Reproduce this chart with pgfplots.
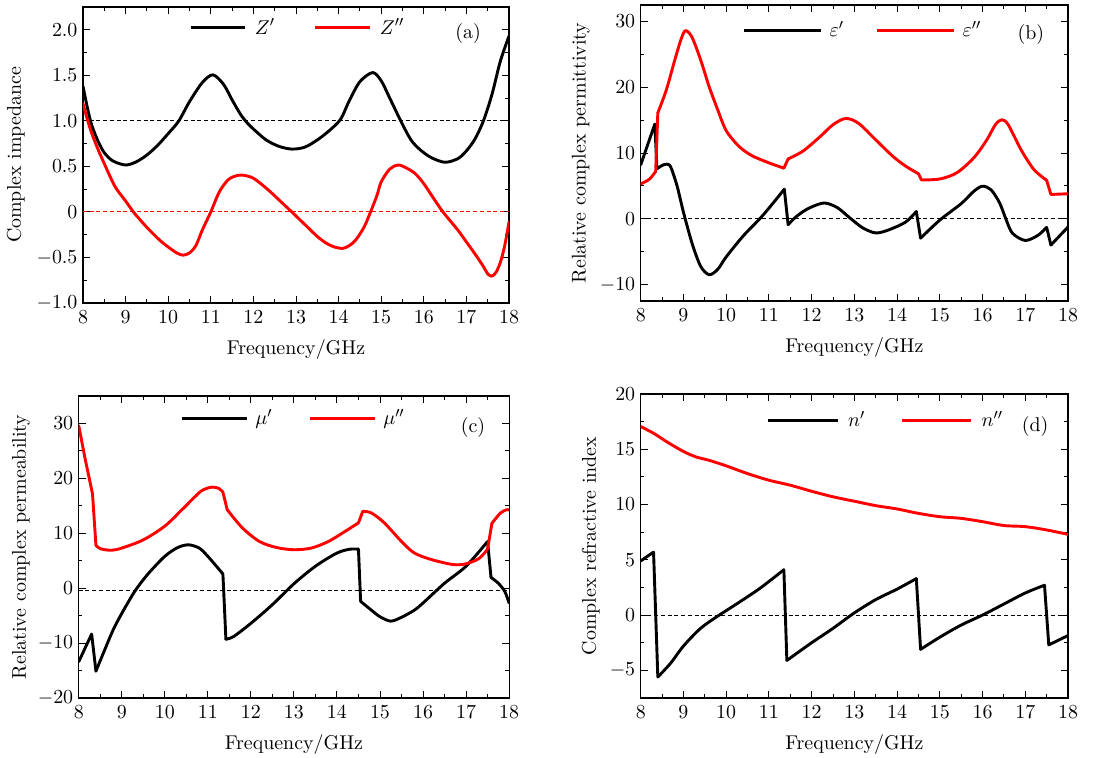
\documentclass[border=0pt,11pt]{standalone}
\usepackage{pgfplots}
\pgfplotsset{compat=1.18}

\pgfplotsset{
  panel/.style={
    scale only axis,
    xmin=8, xmax=18, xtick={8,...,18},
    minor x tick num=1, minor y tick num=1,
    tick align=inside,
    major tick length=3.8pt, minor tick length=2pt,
    axis line style={line width=0.6pt},
    every tick/.style={black, line width=0.5pt},
    xticklabel style={yshift=-0.6pt},
    yticklabel style={xshift=0.8pt},
    xlabel={Frequency/GHz},
    xlabel style={at={(axis description cs:0.5,0)}, anchor=center, yshift=-25.6pt},
    legend columns=2,
    legend cell align=left,
    every axis plot/.append style={line width=1.6pt, line cap=round, line join=round},
  },
  % horizontal position of the rotated y label, as a fraction of the axis width
  ylab/.style={ylabel style={at={(axis description cs:#1,0.5)}, anchor=center}},
  % #1,#2: left end of the legend, #3: sample length, #4: gap before text, #5: text cell width
  leg/.style n args={5}{
    legend image code/.code={\draw[##1, line cap=butt] (0pt,0pt) -- (#3,0pt);},
    legend style={
      at={(axis cs:#1,#2)}, anchor=west,
      draw=none, fill=none, inner sep=0pt, outer sep=0pt,
      nodes={inner sep=0pt, text width=#5, align=left},
      /tikz/every odd column/.style={column sep=#4},
      /tikz/every even column/.style={column sep=0pt},
    },
  },
  seg/.style={smooth, tension=0.5, forget plot},
  jump/.style={forget plot},
  refline/.style={black, line width=0.6pt, line cap=butt, dash pattern=on 2.2pt off 1.5pt, forget plot},
}

\begin{document}
\begin{tikzpicture}
\useasboundingbox (0,0) rectangle (607.75pt,416.9pt);

% (a) complex impedance
\begin{axis}[panel, at={(45.65pt,250.25pt)}, anchor=south west,
  width=234.3pt, height=162.8pt,
  ymin=-1.0, ymax=2.25, ytick={-1,-0.5,0,0.5,1,1.5,2},
  yticklabels={$-1.0$,$-0.5$,$0$,$0.5$,$1.0$,$1.5$,$2.0$},
  ylabel={Complex impedance}, ylab=-0.1575,
  leg={10.49}{2.02}{30pt}{4.6pt}{32.5pt}]
\addplot[refline] coordinates {(8,1) (18,1)};
\addplot[refline, red] coordinates {(8,0) (18,0)};
\addplot[black, smooth, tension=0.5] coordinates {
(8,1.38) (8.1,1.15) (8.2,0.96) (8.35,0.78) (8.5,0.65) (8.7,0.56) (9.0,0.515)
(9.25,0.55) (9.5,0.625) (9.75,0.73) (10.0,0.86) (10.25,1.0) (10.5,1.21)
(10.8,1.42) (11.05,1.505) (11.3,1.40) (11.5,1.23) (11.7,1.07) (11.85,0.98)
(12.0,0.91) (12.3,0.79) (12.6,0.72) (12.9,0.69) (13.2,0.71) (13.5,0.79)
(13.8,0.90) (14.05,1.02) (14.25,1.22) (14.5,1.43) (14.8,1.53) (15.0,1.44)
(15.2,1.25) (15.5,0.96) (15.7,0.79) (15.85,0.71) (16.0,0.65) (16.2,0.59)
(16.5,0.545) (16.8,0.585) (17.0,0.67) (17.2,0.80) (17.4,1.0) (17.6,1.29)
(17.8,1.66) (18,1.93)};
\addlegendentry{$Z'$}
\addplot[red, smooth, tension=0.5] coordinates {
(8,1.19) (8.1,1.02) (8.2,0.87) (8.35,0.69) (8.5,0.53) (8.75,0.28) (9.0,0.12)
(9.2,-0.01) (9.5,-0.17) (9.8,-0.31) (10.0,-0.385) (10.2,-0.45) (10.35,-0.475)
(10.5,-0.45) (10.65,-0.37) (10.8,-0.2) (11.0,0.0) (11.2,0.22) (11.4,0.35)
(11.55,0.39) (11.7,0.405) (11.85,0.395) (12.0,0.37) (12.2,0.30) (12.4,0.22)
(12.65,0.11) (12.9,0.0) (13.1,-0.09) (13.3,-0.18) (13.5,-0.27) (13.7,-0.34)
(13.9,-0.385) (14.1,-0.40) (14.25,-0.37) (14.4,-0.31) (14.6,-0.165)
(14.75,0.0) (14.9,0.18) (15.0,0.33) (15.2,0.47) (15.4,0.515) (15.6,0.48)
(15.8,0.42) (16.0,0.31) (16.2,0.17) (16.45,0.0) (16.8,-0.2) (17.0,-0.33)
(17.2,-0.46) (17.4,-0.60) (17.5,-0.68) (17.6,-0.705) (17.7,-0.66)
(17.8,-0.55) (17.9,-0.37) (18,-0.11)};
\addlegendentry{$Z''$}
\node at (axis cs:17.04,1.96) {(a)};
\end{axis}

% (b) relative complex permittivity
\begin{axis}[panel, at={(352.4pt,251.35pt)}, anchor=south west,
  width=235pt, height=162.8pt,
  ymin=-12.5, ymax=32.5, ytick={-10,0,10,20,30},
  ylabel={Relative complex permittivity}, ylab=-0.1404,
  leg={10.38}{28.6}{42.2pt}{4.2pt}{25.1pt}]
\addplot[refline] coordinates {(8,0) (18,0)};
% real part
\addplot[black] coordinates {(8,8.2) (8.33,14.4) (8.38,7.6)};
\addlegendentry{$\varepsilon'$}
\addplot[black, seg] coordinates {
(8.38,7.6) (8.5,8.1) (8.6,8.3) (8.7,7.9) (8.85,5.0) (9.0,1.0) (9.2,-3.7)
(9.4,-7.2) (9.6,-8.5) (9.8,-7.7) (10.0,-5.8) (10.4,-2.6) (10.8,0.1)
(11.1,2.4) (11.36,4.5)};
\addplot[black, jump] coordinates {(11.36,4.5) (11.45,-0.9)};
\addplot[black, seg] coordinates {
(11.45,-0.9) (11.6,0.1) (11.8,1.1) (12.0,1.8) (12.3,2.4) (12.6,1.7)
(12.9,0.1) (13.2,-1.4) (13.5,-2.15) (13.8,-1.7) (14.2,-0.5) (14.45,1.1)};
\addplot[black, jump] coordinates {(14.45,1.1) (14.55,-2.95)};
\addplot[black, seg] coordinates {
(14.55,-2.95) (15.0,-0.2) (15.5,2.3) (15.8,4.2) (16.0,4.95) (16.2,4.4)
(16.4,2.4) (16.55,-0.1) (16.7,-2.2) (17.0,-3.3) (17.3,-2.5) (17.5,-1.3)};
\addplot[black, jump] coordinates {(17.5,-1.3) (17.6,-4.0) (18,-1.25)};
% imaginary part
\addplot[red, smooth, tension=0.5] coordinates {(8,5.3) (8.2,6.0) (8.35,7.2)};
\addlegendentry{$\varepsilon''$}
\addplot[red, jump] coordinates {(8.35,7.2) (8.4,16.1)};
\addplot[red, seg] coordinates {
(8.4,16.1) (8.6,19.6) (8.8,24.2) (8.95,27.4) (9.05,28.6) (9.2,27.6)
(9.4,24.2) (9.6,20.1) (9.8,16.6) (10.0,13.4) (10.3,11.0) (10.6,9.6)
(11.0,8.5) (11.35,7.7)};
\addplot[red, jump] coordinates {(11.35,7.7) (11.45,9.1)};
\addplot[red, seg] coordinates {
(11.45,9.1) (11.8,10.3) (12.2,12.5) (12.5,14.3) (12.8,15.25) (13.1,14.5)
(13.5,12.0) (13.9,9.5) (14.2,8.0) (14.5,6.85)};
\addplot[red, jump] coordinates {(14.5,6.85) (14.57,5.9)};
\addplot[red, seg] coordinates {
(14.57,5.9) (15.0,6.05) (15.4,7.0) (15.8,9.3) (16.1,12.0) (16.3,14.3)
(16.45,15.05) (16.6,14.3) (16.9,10.5) (17.2,7.5) (17.5,5.85)};
\addplot[red, jump] coordinates {(17.5,5.85) (17.6,3.7) (18,3.8)};
\node at (axis cs:17.13,28.0) {(b)};
\end{axis}

% (c) relative complex permeability
\begin{axis}[panel, at={(43.3pt,33pt)}, anchor=south west,
  width=236.7pt, height=166.1pt,
  ymin=-20, ymax=35, ytick={-20,-10,0,10,20,30},
  ylabel={Relative complex permeability}, ylab=-0.134,
  leg={10.37}{30.9}{35.75pt}{3.7pt}{29.3pt}]
\addplot[refline] coordinates {(8,-0.35) (18,-0.35)};
% real part
\addplot[black] coordinates {(8,-13.4) (8.3,-8.35) (8.4,-15.1)};
\addlegendentry{$\mu'$}
\addplot[black, seg] coordinates {
(8.4,-15.1) (8.6,-11.3) (8.8,-7.6) (9.0,-4.6) (9.3,-0.6) (9.6,2.5)
(10.0,5.8) (10.3,7.4) (10.55,7.9) (10.8,7.3) (11.0,5.8) (11.35,2.6)};
\addplot[black, jump] coordinates {(11.35,2.6) (11.42,-9.3)};
\addplot[black, seg] coordinates {
(11.42,-9.3) (11.6,-8.8) (12.0,-6.4) (12.5,-3.0) (13.0,0.8) (13.5,4.0)
(14.0,6.4) (14.3,7.1) (14.5,7.1)};
\addplot[black, jump] coordinates {(14.5,7.1) (14.55,-2.4)};
\addplot[black, seg] coordinates {
(14.55,-2.4) (14.8,-4.0) (15.0,-5.2) (15.25,-6.0) (15.5,-5.3) (15.8,-4.0)
(16.0,-2.7) (16.5,0.9) (17.0,4.0) (17.5,8.5)};
\addplot[black, jump] coordinates {(17.5,8.5) (17.58,1.95)};
\addplot[black, seg] coordinates {(17.58,1.95) (17.75,0.9) (17.9,-0.6) (18,-2.7)};
% imaginary part
\addplot[red] coordinates {(8,29.6) (8.15,23.5) (8.32,17.2) (8.4,7.8)};
\addlegendentry{$\mu''$}
\addplot[red, seg] coordinates {
(8.4,7.8) (8.5,7.2) (8.75,6.9) (9.0,7.3) (9.5,8.8) (10.0,11.3) (10.4,14.3)
(10.8,17.4) (10.95,18.1) (11.1,18.4) (11.25,18.2) (11.35,17.5)};
\addplot[red, jump] coordinates {(11.35,17.5) (11.45,14.3)};
\addplot[red, seg] coordinates {
(11.45,14.3) (11.8,11.0) (12.2,8.5) (12.6,7.4) (13.0,7.0) (13.4,7.3)
(13.8,8.5) (14.2,10.4) (14.5,11.9)};
\addplot[red, jump] coordinates {(14.5,11.9) (14.6,14.0)};
\addplot[red, seg] coordinates {
(14.6,14.0) (14.8,13.7) (15.1,11.9) (15.5,8.5) (15.8,6.4) (16.2,5.2)
(16.7,4.3) (17.0,4.45) (17.3,5.4) (17.5,7.1)};
\addplot[red, jump] coordinates {(17.5,7.1) (17.6,11.8)};
\addplot[red, seg] coordinates {(17.6,11.8) (17.8,13.7) (17.95,14.3) (18,14.2)};
\node at (axis cs:17.16,29.3) {(c)};
\end{axis}

% (d) complex refractive index
\begin{axis}[panel, at={(352.4pt,33pt)}, anchor=south west,
  width=235pt, height=167.2pt,
  ymin=-7.5, ymax=20, ytick={-5,0,5,10,15,20},
  ylabel={Complex refractive index}, ylab=-0.117,
  leg={10.95}{17.6}{38.1pt}{5pt}{28.8pt}]
\addplot[refline] coordinates {(8,0) (18,0)};
% real part
\addplot[black] coordinates {(8,4.9) (8.3,5.7) (8.4,-5.6)};
\addlegendentry{$n'$}
\addplot[black, seg] coordinates {
(8.4,-5.6) (8.7,-4.35) (9.0,-2.8) (9.4,-1.2) (9.8,-0.1) (10.3,1.15)
(10.8,2.45) (11.35,4.1)};
\addplot[black, jump] coordinates {(11.35,4.1) (11.42,-4.1)};
\addplot[black, seg] coordinates {
(11.42,-4.1) (12.0,-2.5) (12.5,-1.2) (13.0,0.2) (13.5,1.4) (14.0,2.35)
(14.45,3.3)};
\addplot[black, jump] coordinates {(14.45,3.3) (14.55,-3.1)};
\addplot[black, seg] coordinates {
(14.55,-3.1) (15.0,-2.0) (15.5,-0.9) (16.0,0.0) (16.5,1.0) (17.0,2.0)
(17.45,2.7)};
\addplot[black, jump] coordinates {(17.45,2.7) (17.55,-2.7) (18.0,-1.85)};
% imaginary part
\addplot[red, smooth, tension=0.5] coordinates {
(8,17.05) (8.3,16.45) (8.6,15.7) (9.0,14.8) (9.3,14.3) (9.6,14.0)
(10.0,13.5) (10.5,12.8) (11.0,12.2) (11.5,11.75) (12.0,11.2) (12.5,10.7)
(13.0,10.3) (13.5,9.9) (14.0,9.6) (14.5,9.2) (15.0,8.9) (15.5,8.75)
(16.0,8.45) (16.5,8.1) (17.0,8.0) (17.5,7.7) (18.0,7.3)};
\addlegendentry{$n''$}
\node at (axis cs:17.23,17.05) {(d)};
\end{axis}
\end{tikzpicture}
\end{document}
